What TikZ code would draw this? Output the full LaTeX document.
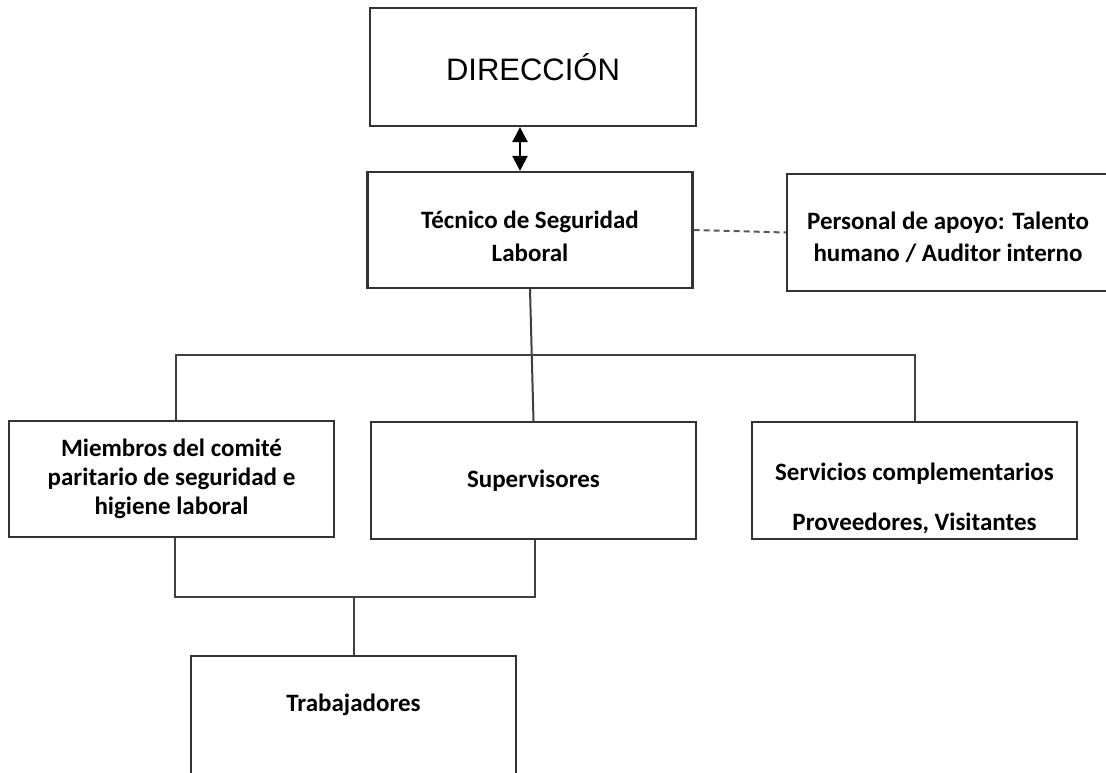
\documentclass[tikz,border=0pt]{standalone}
\usepackage{fontspec}
\setmainfont{Carlito}
\newfontfamily\arialfont{Liberation Sans}
\usetikzlibrary{arrows.meta,calc}

\tikzset{
  orgbox/.style={draw=black!80,line width=2.2pt,minimum width=325pt,minimum height=117pt,
    inner sep=0pt,align=center,font=\fontsize{25}{31}\selectfont\bfseries},
  link/.style={draw=black!75,line width=2pt},
}

\begin{document}
\begin{tikzpicture}[x=1pt,y=-1pt,>={Triangle[length=15pt,width=15pt]}]
  \clip (0,0) rectangle (1106,773);
  \node[orgbox,minimum width=326pt,minimum height=118pt,font=\arialfont\fontsize{31}{36}\selectfont] (dir) at (533,67) {DIRECCIÓN};
  \node[orgbox,minimum height=116pt,text height=63pt,font=\fontsize{25}{33}\selectfont\bfseries] (tec) at (530,230) {Técnico de Seguridad\\Laboral};
  \node[orgbox,minimum width=322pt,text height=60pt,font=\fontsize{25}{32}\selectfont\bfseries] (apoyo) at (948,232.5) {Personal de apoyo: Talento\\humano / Auditor interno};
  \node[orgbox,minimum height=116pt,font=\fontsize{25}{29}\selectfont\bfseries] (comite) at (171.5,479) {Miembros del comité\\paritario de seguridad e\\higiene laboral};
  \node[orgbox] (superv) at (533.5,480.5) {Supervisores};
  \node[orgbox,text height=104pt] (serv) at (914.5,480.5) {Servicios complementarios\\[19pt]Proveedores, Visitantes};
  \node[orgbox,minimum height=120pt,text depth=27pt] (trab) at (353.5,716) {Trabajadores};

  % conectores
  \draw[link,black,line width=2.4pt,<->] ([xshift=-13pt]dir.south) -- ([xshift=-13pt]dir.south |- tec.north);
  \draw[link,black!65,dash pattern=on 6pt off 4pt] (tec.east) -- (apoyo.west);
  \draw[link] (tec.south) -- (superv.north);
  \draw[link] ([xshift=4pt]comite.north) |- ($(tec.south)!0.5!(superv.north)$) -| (serv.north);
  \draw[link] ([xshift=3pt]comite.south) |- (353.5,597) coordinate (junta) -| ([xshift=1.5pt]superv.south);
  \draw[link] (junta) -- (trab.north);
\end{tikzpicture}
\end{document}
